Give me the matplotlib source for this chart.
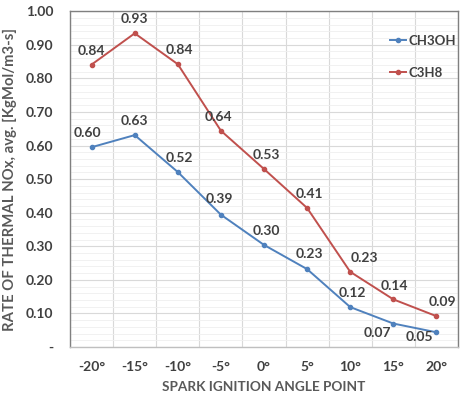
import matplotlib
matplotlib.use('Agg')
import matplotlib.pyplot as plt
import numpy as np

plt.rcParams['font.family'] = ['Lato', 'DejaVu Sans']

angles = ['-20°', '-15°', '-10°', '-5°', '0°', '5°', '10°', '15°', '20°']
ch3oh = [0.595, 0.631, 0.521, 0.394, 0.304, 0.232, 0.119, 0.070, 0.044]
c3h8 = [0.841, 0.934, 0.842, 0.644, 0.530, 0.414, 0.224, 0.142, 0.092]
ch3oh_labels = ['0.60', '0.63', '0.52', '0.39', '0.30', '0.23', '0.12', '0.07', '0.05']
c3h8_labels = ['0.84', '0.93', '0.84', '0.64', '0.53', '0.41', '0.23', '0.14', '0.09']

# label offsets in pixels (dx, dy)
ch3oh_off = [(-4, 14), (0, 14), (2, 14), (-2, 16), (2, 14), (2, 15), (2, 14), (-16, -9), (-17, -5)]
c3h8_off = [(0, 14), (0, 14), (2, 14), (-2, 14), (2, 14), (2, 14), (14, 14), (1, 13), (6, 14)]

blue = '#4F81BD'
red = '#C0504D'
txt = '#404040'

fig = plt.figure(figsize=(4.64, 3.98), dpi=100)
ax = fig.add_axes([0.151, 0.128, 0.836, 0.844])

x = np.arange(len(angles))
ax.plot(x, ch3oh, color=blue, lw=1.4, marker='o', ms=3, label='CH3OH')
ax.plot(x, c3h8, color=red, lw=1.4, marker='o', ms=3, label='C3H8')

for xi, v, s, (dx, dy) in zip(x, ch3oh, ch3oh_labels, ch3oh_off):
    ax.annotate(s, (xi, v), xytext=(dx, dy), textcoords='offset pixels',
                ha='center', va='center', fontsize=10, fontweight='bold', color=txt)
for xi, v, s, (dx, dy) in zip(x, c3h8, c3h8_labels, c3h8_off):
    ax.annotate(s, (xi, v), xytext=(dx, dy), textcoords='offset pixels',
                ha='center', va='center', fontsize=10, fontweight='bold', color=txt)

ax.set_xlim(-0.5, len(angles) - 0.5)
ax.set_ylim(0, 1.0)
ax.set_xticks(x)
ax.set_xticklabels(angles)
yt = np.round(np.arange(0, 1.01, 0.1), 2)
ax.set_yticks(yt)
ax.set_yticklabels(['-'] + ['%.2f' % v for v in yt[1:]])
ax.set_yticks(np.arange(0, 1.0, 0.02), minor=True)
ax.set_xticks(np.arange(-0.5, len(angles), 1.0), minor=True)

ax.grid(which='major', axis='y', color='#D9D9D9', lw=0.8)
ax.grid(which='minor', axis='y', color='#EFEFEF', lw=0.6)
ax.grid(which='minor', axis='x', color='#D9D9D9', lw=0.8)
ax.set_axisbelow(True)
ax.tick_params(which='both', length=0)
ax.tick_params(axis='both', labelsize=10, labelcolor=txt)
ax.tick_params(axis='y', pad=12)
ax.tick_params(axis='x', pad=10)
for lab in ax.get_xticklabels() + ax.get_yticklabels():
    lab.set_fontweight('bold')

for sp in ax.spines.values():
    sp.set_color('#808080')
    sp.set_linewidth(1)
ax.spines['bottom'].set_color('#BFBFBF')

ax.set_xlabel('SPARK IGNITION ANGLE POINT', fontsize=9.8, fontweight='bold', color='#595959', labelpad=6)
ax.set_ylabel('RATE OF THERMAL NOx, avg. [KgMol/m3-s]', fontsize=10.7, fontweight='bold', color='#595959', labelpad=6)

leg = ax.legend(loc='upper left', bbox_to_anchor=(0.795, 0.965), frameon=False, fontsize=9.5,
                handlelength=1.2, handletextpad=0.2, labelspacing=1.5, labelcolor=txt)
for t in leg.get_texts():
    t.set_fontweight('bold')

fig.savefig('out.png', dpi=100)
